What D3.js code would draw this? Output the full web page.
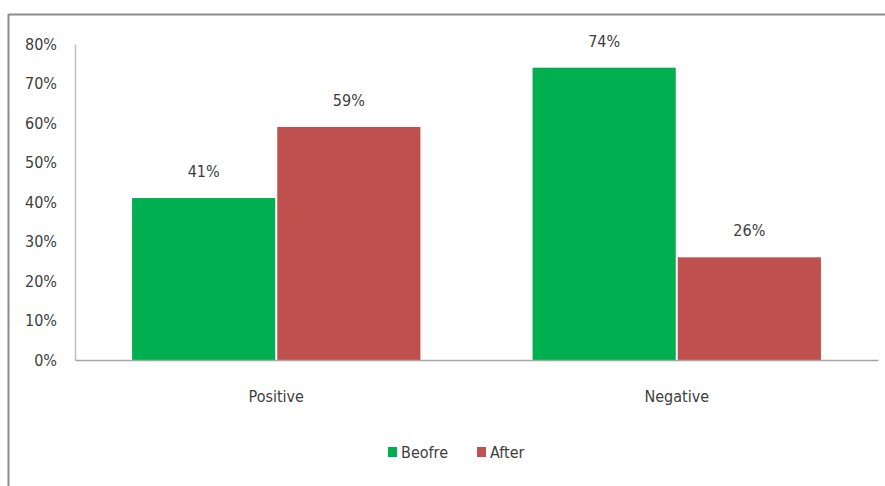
<!DOCTYPE html>
<html>
<head>
<meta charset="utf-8">
<script src="https://cdn.jsdelivr.net/npm/d3@7"></script>
<style>
  html, body { margin: 0; padding: 0; background: #fff; }
  svg text { font-family: "Liberation Sans Narrow", "Arial Narrow", "DejaVu Sans Condensed", sans-serif; fill: #404040; }
</style>
</head>
<body>
<svg id="chart" width="885" height="486"></svg>
<script>
// Chart data
const categories = ["Positive", "Negative"];
const seriesNames = ["Beofre", "After"];
const beforeValues = [0.41, 0.74];
const afterValues = [0.59, 0.26];
const yTicks = [0, 0.1, 0.2, 0.3, 0.4, 0.5, 0.6, 0.7, 0.8];
const seriesColors = ["#00B050", "#C0504D"];

const rows = categories.map((c, i) => ({ category: c, values: [beforeValues[i], afterValues[i]] }));

const svg = d3.select("#chart");
const W = 885, H = 486;
const margin = { top: 44, right: 7, bottom: 126, left: 75 };
const innerW = W - margin.left - margin.right;
const innerH = H - margin.top - margin.bottom;

// Outer frame (top and left edges visible)
svg.append("line").attr("x1", 8.5).attr("x2", W).attr("y1", 14.5).attr("y2", 14.5)
  .attr("stroke", "#8c8c8c").attr("stroke-width", 2);
svg.append("line").attr("x1", 8.5).attr("x2", 8.5).attr("y1", 14).attr("y2", H)
  .attr("stroke", "#8c8c8c").attr("stroke-width", 2);

const g = svg.append("g").attr("transform", `translate(${margin.left},${margin.top})`);

const x0 = d3.scaleBand().domain(categories).range([0, innerW]).paddingInner(0.275).paddingOuter(0.14);
const x1 = d3.scaleBand().domain(seriesNames).range([0, x0.bandwidth()]).padding(0);
const y = d3.scaleLinear().domain([0, 0.8]).range([innerH, 0]);

// Y axis
const yAxis = d3.axisLeft(y).tickValues(yTicks).tickFormat(d3.format(".0%")).tickSize(0).tickPadding(18);
const ya = g.append("g").call(yAxis);
ya.select(".domain").attr("stroke", "#bfbfbf").attr("stroke-width", 1.5);
ya.selectAll("text").style("font-size", "16px");

// Bars
const groups = g.selectAll(".grp").data(rows).join("g")
  .attr("class", "grp")
  .attr("transform", d => `translate(${x0(d.category)},0)`);

groups.selectAll("rect")
  .data(d => d.values.map((v, i) => ({ key: seriesNames[i], value: v, i })))
  .join("rect")
  .attr("x", d => x1(d.key) + 1)
  .attr("width", x1.bandwidth() - 2)
  .attr("y", d => y(d.value))
  .attr("height", d => innerH - y(d.value))
  .attr("fill", d => seriesColors[d.i]);

// Value labels
groups.selectAll(".lbl")
  .data(d => d.values.map((v, i) => ({ key: seriesNames[i], value: v })))
  .join("text")
  .attr("class", "lbl")
  .attr("x", d => x1(d.key) + x1.bandwidth() / 2)
  .attr("y", d => y(d.value) - 21)
  .attr("text-anchor", "middle")
  .style("font-size", "16px")
  .text(d => d3.format(".0%")(d.value));

// X axis
const xAxis = d3.axisBottom(x0).tickSize(0).tickPadding(31);
const xa = g.append("g").attr("transform", `translate(0,${innerH})`).call(xAxis);
xa.select(".domain").attr("stroke", "#a6a6a6").attr("stroke-width", 1.5);
xa.selectAll("text").style("font-size", "16px");

// Legend
const legend = svg.append("g").attr("transform", "translate(388,452)");
const legendX = [0, 89];
seriesNames.forEach((name, i) => {
  const item = legend.append("g").attr("transform", `translate(${legendX[i]},0)`);
  item.append("rect").attr("x", 0).attr("y", -5).attr("width", 9).attr("height", 10).attr("fill", seriesColors[i]);
  item.append("text").attr("x", 13).attr("y", 0).attr("dy", "0.35em").style("font-size", "16px").text(name);
});
</script>
</body>
</html>
